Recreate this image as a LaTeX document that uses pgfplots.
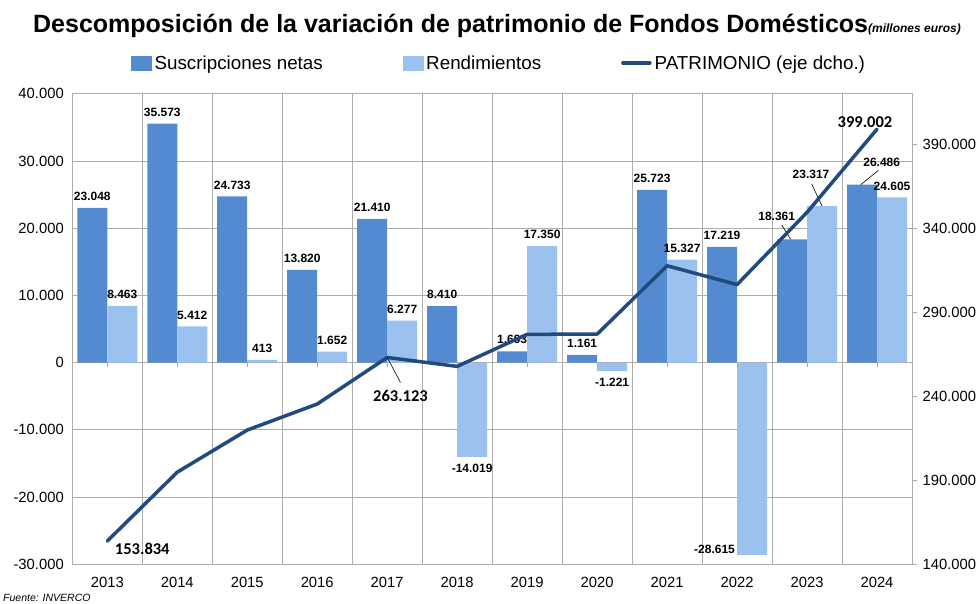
\documentclass[border=0pt]{standalone}
\usepackage{pgfplots}
\usepackage{pgfplotstable}
\pgfplotsset{compat=1.18}
\usepackage{fontspec}
\setmainfont{Liberation Sans}
\newfontfamily\calibri{Carlito}
\definecolor{darkbar}{RGB}{84,139,208}
\definecolor{lightbar}{RGB}{155,193,238}
\definecolor{linecol}{RGB}{33,74,126}
\definecolor{gridc}{RGB}{172,172,172}
\newcommand{\blab}{\bfseries\fontsize{12}{12}\selectfont}
\newcommand{\plab}{\calibri\bfseries\fontsize{16.5}{16.5}\selectfont}
\newcommand{\tlab}{\fontsize{14.8}{14.8}\selectfont}

\pgfplotstableread{
x sus ren
0 23048 8463
1 35573 5412
2 24733 413
3 13820 1652
4 21410 6277
5 8410 -14019
6 1693 17350
7 1161 -1221
8 25723 15327
9 17219 -28615
10 18361 23317
11 26486 24605
}\flows

\pgfplotstableread{
x pat
0 153834
1 194844
2 219900
3 235400
4 263123
5 257800
6 276900
7 277000
8 317700
9 306500
10 349500
11 399002
}\patrimonio

\begin{document}
\begin{tikzpicture}
\path[use as bounding box] (0pt,0pt) rectangle (978pt,603pt);
\begin{axis}[
  at={(72.3pt,38.7pt)}, anchor=south west,
  scale only axis, width=839.7pt, height=470.4pt,
  xmin=-0.5, xmax=11.5, ymin=-30000, ymax=40000,
  xtick={0,1,2,3,4,5,6,7,8,9,10,11},
  xticklabels={2013,2014,2015,2016,2017,2018,2019,2020,2021,2022,2023,2024},
  minor xtick={0.5,1.5,2.5,3.5,4.5,5.5,6.5,7.5,8.5,9.5,10.5},
  ytick={-30000,-20000,-10000,0,10000,20000,30000,40000},
  xminorgrids=true, ymajorgrids=true,
  grid style={gridc, line width=1pt},
  minor grid style={gridc, line width=1pt},
  axis line style={gridc, line width=1pt},
  major tick length=0pt, minor tick length=0pt,
  scaled y ticks=false,
  tick label style={font=\tlab},
  yticklabel style={xshift=-5pt, /pgf/number format/.cd, fixed, precision=0, 1000 sep={.}, assume math mode=true},
  xticklabel style={yshift=-9pt},
  ybar=0pt, bar width=30pt,
  clip=false,
]
\addplot[fill=darkbar, draw=none] table[x=x, y=sus] {\flows};
\addplot[fill=lightbar, draw=none] table[x=x, y=ren] {\flows};
\pgfplotsinvokeforeach{0,1,2,3,4,5,6,7,8,9,10,11}{
  \draw[gridc, line width=1pt] (axis cs:#1,0) -- ++(0pt,-4pt);
}
% standard labels
\begin{scope}[every node/.style={font=\blab, inner sep=0pt, anchor=south, yshift=7pt}]
\node at (axis cs:-0.2143,23048) {23.048};
\node at (axis cs:0.7857,35573) {35.573};
\node at (axis cs:1.7857,24733) {24.733};
\node at (axis cs:2.7857,13820) {13.820};
\node at (axis cs:3.7857,21410) {21.410};
\node at (axis cs:4.7857,8410) {8.410};
\node at (axis cs:5.7857,1693) {1.693};
\node at (axis cs:6.7857,1161) {1.161};
\node at (axis cs:7.7857,25723) {25.723};
\node at (axis cs:8.7857,17219) {17.219};
\node at (axis cs:0.2143,8463) {8.463};
\node at (axis cs:1.2143,5412) {5.412};
\node at (axis cs:2.2143,413) {413};
\node at (axis cs:3.2143,1652) {1.652};
\node at (axis cs:4.2143,6277) {6.277};
\node at (axis cs:6.2143,17350) {17.350};
\node at (axis cs:8.2143,15327) {15.327};
\node at (axis cs:11.2143,24605) {24.605};
\end{scope}
\begin{scope}[every node/.style={font=\blab, inner sep=0pt, anchor=north, yshift=-7.5pt}]
\node at (axis cs:5.2143,-14019) {-14.019};
\node at (axis cs:7.2143,-1221) {-1.221};
\end{scope}
\node[font=\blab, inner sep=0pt, anchor=east, xshift=-2pt, yshift=6pt] at (axis cs:9,-28615) {-28.615};
\node[font=\blab, inner sep=0pt, xshift=-15.3pt, yshift=23.3pt] at (axis cs:9.7857,18361) {18.361};
\draw[black, line width=0.6pt] (axis cs:9.7857,18361) ++(-10.3pt,14.3pt) -- ++(9pt,-14.3pt);
\node[font=\blab, inner sep=0pt, xshift=-11pt, yshift=32pt] at (axis cs:10.2143,23317) {23.317};
\draw[black, line width=0.6pt] (axis cs:10.2143,23317) ++(-10.3pt,22pt) -- ++(10.3pt,-22pt);
\node[font=\blab, inner sep=0pt, xshift=19.7pt, yshift=22.6pt] at (axis cs:10.7857,26486) {26.486};
\draw[black, line width=0.6pt] (axis cs:10.7857,26486) ++(16.3pt,14.3pt) -- ++(-17.6pt,-14.3pt);
\end{axis}

\begin{axis}[
  at={(72.3pt,38.7pt)}, anchor=south west,
  scale only axis, width=839.7pt, height=470.4pt,
  xmin=-0.5, xmax=11.5, ymin=140000, ymax=420000,
  axis x line=none, axis y line*=right,
  ytick={140000,190000,240000,290000,340000,390000},
  y axis line style={gridc, line width=1pt},
  tick style={gridc, line width=1pt},
  tick align=outside, major tick length=5pt,
  scaled y ticks=false,
  yticklabel style={font=\tlab, xshift=2pt, /pgf/number format/.cd, fixed, precision=0, 1000 sep={.}, assume math mode=true},
  clip=false,
  legend columns=3,
  legend style={at={(0.0699,1.0657)}, anchor=west, draw=none, fill=none,
    inner sep=0pt, font=\fontsize{18.8}{18.8}\selectfont,
    nodes={inner sep=0pt},
    /tikz/every odd column/.append style={column sep=3pt},
    /tikz/every even column/.append style={column sep=80pt}},
]
\addlegendimage{legend image code/.code={\fill[darkbar] (0pt,-7pt) rectangle (20pt,7pt);}}
\addlegendentry{Suscripciones netas}
\addlegendimage{legend image code/.code={\fill[lightbar] (0pt,-7pt) rectangle (20pt,7pt);}}
\addlegendentry{Rendimientos}
\addplot[linecol, line width=3.5pt, line join=round, line cap=round, mark=none,
  legend image code/.code={\draw[linecol, line width=3.5pt] (0pt,0pt) -- (27pt,0pt);}]
  table[x=x, y=pat] {\patrimonio};
\addlegendentry{PATRIMONIO (eje dcho.)}
\node[font=\plab, inner sep=0pt, xshift=35pt, yshift=-8.3pt] at (axis cs:0,153834) {153.834};
\node[font=\plab, inner sep=0pt, xshift=13.3pt, yshift=-38.5pt] at (axis cs:4,263123) {263.123};
\draw[black, line width=0.6pt] (axis cs:4,263123) -- ++(13.3pt,-25pt);
\node[font=\plab, inner sep=0pt, xshift=-12pt, yshift=6.6pt] at (axis cs:11,399002) {399.002};
\end{axis}

\node[anchor=base west, inner sep=0pt] at (33pt,570pt)
  {\bfseries\fontsize{25}{25}\selectfont Descomposición de la variación de patrimonio de Fondos Domésticos\fontsize{12}{12}\selectfont\itshape(millones euros)};
\node[anchor=base west, inner sep=0pt, font=\itshape\fontsize{10.5}{10.5}\selectfont] at (3pt,1.5pt) {Fuente: INVERCO};
\end{tikzpicture}
\end{document}
